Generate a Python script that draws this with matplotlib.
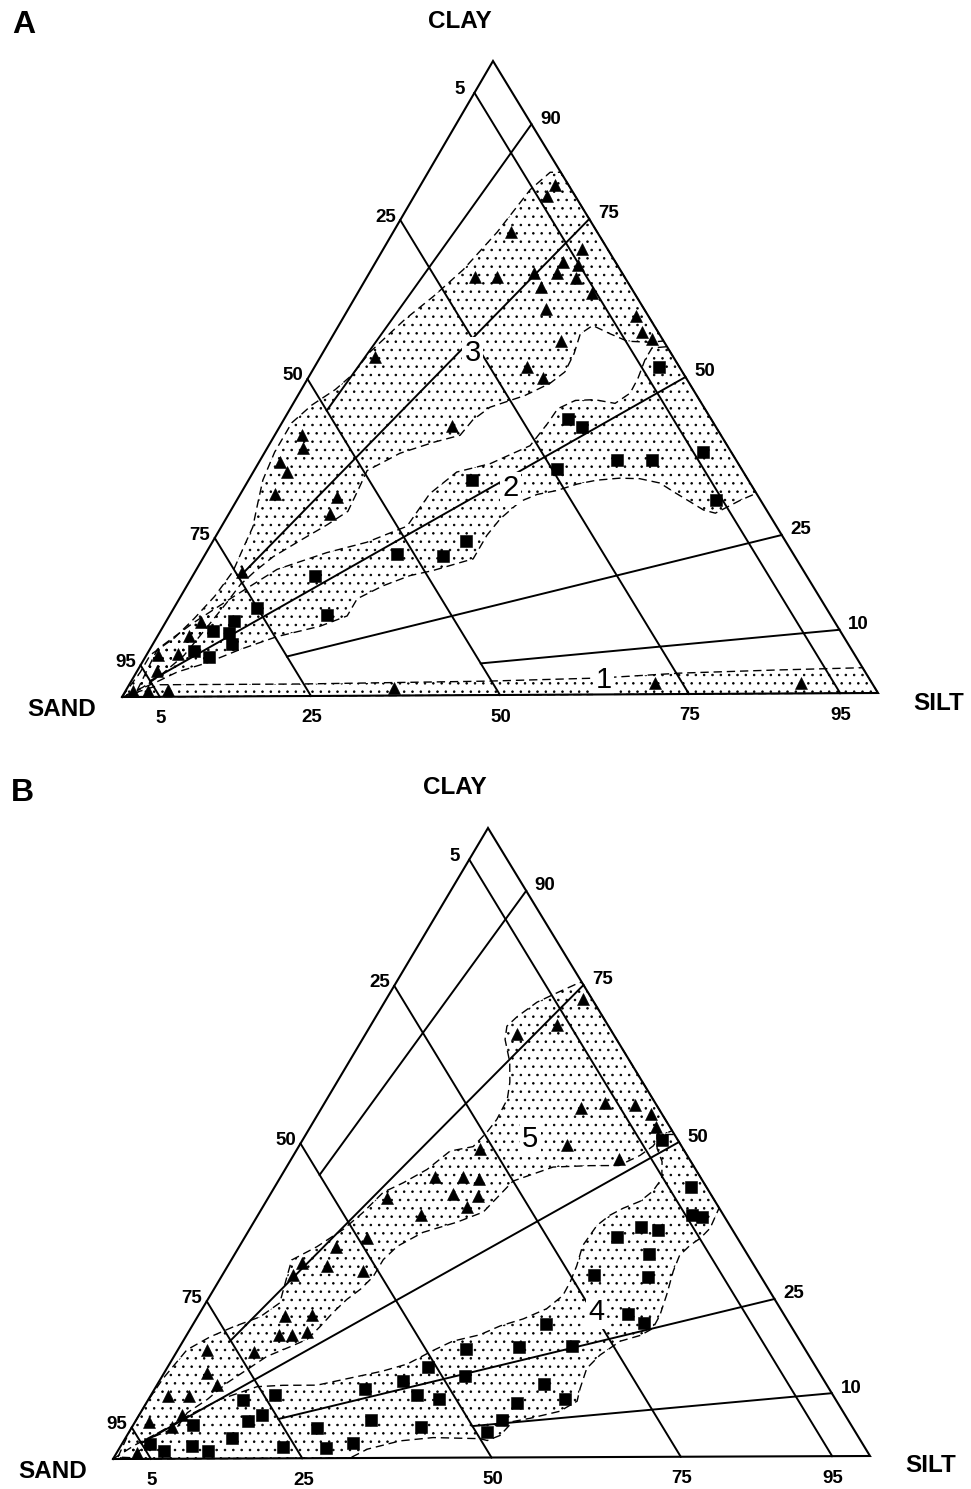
import numpy as np
import matplotlib
matplotlib.use('Agg')
import matplotlib.pyplot as plt
from matplotlib.patches import Polygon

plt.rcParams['font.family'] = ['Liberation Sans', 'DejaVu Sans']
plt.rcParams['hatch.linewidth'] = 0.6

# all compositions are (silt %, clay %), sand = 100 - silt - clay

# ---- panel A ----
a_triangles = [(17.8, 80.4), (17.6, 78.7), (15.6, 73.0), (14.4, 65.9), (17.3, 65.9), (21.8, 66.5),
               (24.8, 68.2), (24.9, 66.5), (26.4, 70.2), (27.1, 67.7), (27.8, 65.7), (23.9, 64.3),
               (31.1, 63.3), (26.3, 60.8), (38.7, 59.7), (40.7, 57.1), (42.6, 56.0), (30.7, 55.8),
               (28.2, 51.7), (31.2, 50.0), (22.9, 42.4), (7.2, 53.4), (3.6, 41.2), (4.7, 39.2),
               (2.8, 36.9), (4.5, 35.4), (4.6, 31.9), (13.1, 31.3), (13.4, 28.7), (6.2, 19.6),
               (4.7, 11.8), (4.2, 9.6), (1.5, 6.6), (4.1, 6.7), (2.6, 4.1), (1.0, 1.0), (3.0, 1.0),
               (5.6, 1.0), (35.4, 1.2), (69.6, 1.8), (89.0, 1.7)]
a_squares = [(29.7, 33.9), (33.6, 24.3), (31.7, 22.0), (25.4, 22.4), (16.2, 18.9), (20.8, 12.8),
             (11.1, 13.9), (9.0, 11.9), (6.9, 10.4), (9.2, 10.0), (10.5, 8.2), (6.0, 7.2), (8.4, 6.2),
             (37.6, 43.5), (40.1, 42.2), (47.3, 37.0), (51.9, 37.0), (40.1, 35.6), (58.2, 38.1),
             (63.6, 30.6), (45.7, 51.6)]
a_zone3 = [(0, 0), (0.5, 3.9), (0.5, 6.6), (2.4, 9.3), (3.5, 12.3), (4.5, 15.8), (5.0, 19.7), (4.5, 23.9),
           (4.2, 26.7), (3.0, 30.5), (1.9, 34.1), (1.3, 38.5), (1.3, 43.1), (2.6, 45.9), (4.5, 48.3),
           (5.6, 50.6), (6.2, 54.2), (8.3, 59.3), (10.3, 62.9), (12.2, 67.1), (13.8, 73.0), (14.9, 79.7),
           (16.2, 82.4), (17.6, 82.4), (44.3, 55.7), (42.6, 55.5), (39.5, 55.7), (36.6, 56.9),
           (33.7, 58.2), (32.7, 56.9), (33.4, 53.8), (33.6, 50.9), (32.5, 49.1), (30.1, 47.2),
           (26.4, 45.4), (25.1, 43.4), (24.6, 41.0), (21.6, 39.9), (18.0, 38.2), (15.0, 35.5),
           (15.3, 32.5), (15.6, 29.1), (13.9, 27.0), (11.5, 24.5), (9.2, 22.0), (7.9, 19.7), (7.0, 17.6),
           (6.6, 14.8), (6.0, 11.6), (5.5, 9.0), (5.0, 6.5), (3.5, 3.5), (2.0, 1.5)]
a_zone2 = [(1.5, 1.0), (1.0, 7.5), (3.7, 11.6), (7.0, 15.7), (10.7, 20.0), (16.0, 22.6), (20.5, 24.2),
           (24.6, 26.7), (25.1, 31.8), (27.0, 35.2), (30.8, 36.5), (34.7, 39.3), (35.3, 42.8),
           (35.5, 45.1), (37.2, 46.4), (39.7, 46.5), (42.7, 45.9), (43.9, 47.5), (43.8, 49.8),
           (43.3, 52.7), (43.3, 54.6), (45.2, 54.8), (68.4, 31.6), (66.8, 30.5), (64.5, 28.5),
           (62.7, 29.0), (60.3, 30.3), (57.5, 31.8), (54.8, 33.3), (51.8, 34.0), (49.1, 34.1),
           (46.2, 33.8), (43.9, 33.2), (41.7, 32.2), (39.4, 31.6), (37.7, 30.5), (36.4, 27.8),
           (35.9, 25.2), (35.9, 21.5), (31.5, 19.7), (28.8, 18.9), (26.0, 17.3), (23.6, 15.3),
           (23.6, 12.6), (20.8, 11.0), (15.9, 9.4), (12.0, 7.4), (8.6, 5.3), (5.4, 3.9), (3.5, 2.4)]
a_zone1 = [(0, 0), (4.1, 1.9), (22.6, 1.9), (47.4, 2.2), (62.0, 2.6), (72.2, 3.3), (84.3, 3.7),
           (96.0, 4.0), (100, 0)]
a_zone_names = ['3', '2', '1']
a_name_pos = [(19.8, 54.2), (35.2, 32.9), (62.4, 2.6)]

# ---- panel B ----
b_triangles = [(26.0, 72.8), (24.6, 68.7), (20.0, 67.3), (34.4, 55.4), (37.1, 56.2), (41.3, 55.9),
               (44.1, 54.5), (45.8, 52.4), (35.4, 49.6), (43.4, 47.3), (24.2, 49.0), (20.4, 44.6),
               (24.1, 44.6), (26.4, 44.3), (24.1, 41.9), (27.6, 41.6), (27.1, 39.8), (21.5, 38.6),
               (15.7, 41.3), (16.2, 34.9), (12.9, 33.5), (9.6, 31.0), (9.3, 29.1), (13.1, 30.6),
               (18.3, 29.7), (11.5, 22.6), (15.0, 22.7), (12.2, 19.6), (14.0, 19.6), (15.7, 20.0),
               (10.3, 16.9), (3.8, 17.3), (5.7, 13.6), (7.9, 11.7), (2.3, 10.0), (5.1, 10.0), (5.6, 7.0),
               (1.8, 5.9), (5.3, 5.1), (2.7, 1.0)]
b_squares = [(47.6, 50.3), (55.1, 42.8), (57.5, 38.4), (58.9, 38.1), (49.3, 35.0), (51.7, 36.5),
             (54.1, 36.0), (54.8, 32.3), (49.2, 28.9), (56.5, 28.5), (56.8, 22.7), (59.6, 21.3),
             (46.7, 21.2), (45.0, 17.5), (51.9, 17.6), (51.1, 11.7), (55.1, 9.2), (49.1, 8.6),
             (48.4, 5.9), (47.4, 4.0), (27.9, 11.0), (32.3, 12.2), (34.5, 14.4), (38.1, 17.2),
             (40.0, 13.0), (35.2, 9.9), (38.5, 9.3), (31.1, 6.0), (24.6, 4.8), (38.3, 4.9), (30.5, 2.4),
             (27.4, 1.6), (12.5, 9.3), (16.5, 10.0), (16.3, 6.9), (14.9, 5.9), (7.9, 5.4), (14.2, 3.2),
             (21.5, 1.8), (9.5, 2.0), (11.9, 1.2), (6.2, 1.2), (3.7, 2.4)]
b_zone5 = [(0.5, 0.3), (0, 4.6), (0, 8.6), (0.3, 12.8), (1.2, 17.3), (3.2, 19.3), (5.5, 20.9), (8.3, 22.5),
           (9.8, 24.7), (8.7, 28.8), (8.0, 31.5), (10.3, 33.6), (12.4, 36.3), (13.7, 39.0), (14.8, 42.2),
           (16.7, 43.7), (18.8, 45.8), (20.4, 48.7), (23.1, 49.4), (23.8, 51.7), (24.1, 53.7),
           (23.9, 56.9), (22.9, 59.6), (21.3, 62.8), (18.9, 66.4), (18.1, 68.5), (18.7, 70.0),
           (20.2, 72.3), (22.4, 74.0), (24.3, 75.4), (24.6, 75.4), (48.2, 51.8), (47.0, 51.0),
           (46.9, 49.4), (45.9, 47.9), (43.9, 46.3), (40.1, 46.3), (35.3, 46.1), (31.1, 43.9),
           (29.6, 39.0), (26.9, 37.4), (23.2, 35.8), (20.9, 33.6), (20.1, 31.5), (20.1, 28.8),
           (19.4, 26.8), (18.4, 25.2), (17.6, 23.1), (17.0, 20.9), (16.3, 18.9), (14.6, 17.7),
           (12.3, 16.2), (10.7, 14.1), (9.1, 12.0), (7.8, 9.4), (6.2, 7.3), (6.0, 5.0), (3.6, 3.5),
           (2.9, 1.4), (2.2, 0.2)]
b_zone4 = [(0, 0), (1.8, 2.2), (4.1, 4.3), (6.7, 7.0), (9.5, 9.4), (13.4, 11.4), (16.7, 11.6), (21.2, 11.6),
           (25.0, 12.7), (28.8, 13.8), (31.5, 14.9), (33.8, 17.0), (35.7, 18.5), (38.8, 19.5),
           (40.8, 20.9), (43.3, 22.0), (45.6, 23.6), (46.7, 25.7), (46.6, 27.9), (46.2, 30.4),
           (45.4, 33.6), (45.7, 36.8), (46.6, 38.4), (47.8, 39.5), (49.5, 40.6), (50.4, 42.2),
           (50.6, 44.2), (49.3, 46.9), (47.6, 49.0), (46.5, 51.2), (48.8, 51.2), (60.5, 39.5),
           (60.9, 36.3), (60.4, 34.7), (59.6, 33.6), (59.0, 32.0), (59.4, 29.5), (60.4, 25.7),
           (61.1, 22.5), (61.2, 20.4), (60.1, 19.3), (57.9, 18.4), (56.3, 16.2), (55.6, 14.1),
           (56.3, 10.9), (56.9, 8.9), (55.4, 7.3), (52.0, 6.2), (50.0, 5.7), (49.4, 3.5), (48.1, 2.7),
           (47.0, 3.0), (40.7, 3.2), (36.6, 2.7), (32.9, 1.4), (31.3, 0)]
b_zone_names = ['5', '4']
b_name_pos = [(29.9, 50.9), (52.3, 23.3)]

# classification frame
sand_lines = [95, 75, 50, 25, 5]
ratio_lines = [90, 75, 50, 25, 10]        # clay share of the fines, %
ratio_stop = [50, 75, 95, 75, 50]         # sand % where the ratio line ends
left_ticks = [5, 25, 50, 75, 95]
right_ticks = [90, 75, 50, 25, 10]
bottom_ticks = [5, 25, 50, 75, 95]

# triangle corners (sand, silt, clay) in figure pixels
corners_a = [(122, 697), (878, 693), (493, 61)]
corners_b = [(113, 1459), (870, 1456), (488, 828)]


def tern(corners, silt, clay):
    S, T, C = (np.array(p, float) for p in corners)
    u = np.atleast_1d(np.asarray(silt, float))[:, None] / 100.0
    v = np.atleast_1d(np.asarray(clay, float))[:, None] / 100.0
    p = S + u * (T - S) + v * (C - S)
    return p[:, 0], p[:, 1]


def frame(ax, corners):
    x, y = tern(corners, [0, 100, 0, 0], [0, 0, 100, 0])
    ax.plot(x, y, color='k', lw=1.5, zorder=7, solid_joinstyle='miter')
    for s in sand_lines:
        x, y = tern(corners, [0, 100 - s], [100 - s, 0])
        ax.plot(x, y, color='k', lw=1.4, zorder=3)
    for r, st in zip(ratio_lines, ratio_stop):
        f = (100 - st) / 100.0
        x, y = tern(corners, [100 - r, (100 - r) * f], [r, r * f])
        ax.plot(x, y, color='k', lw=1.4, zorder=3)
    kw = dict(fontsize=13.5, fontweight='bold', ha='center', va='center', zorder=6)
    for t in left_ticks:
        x, y = tern(corners, 0, 100 - t)
        ax.text(x[0] - 15, y[0] - 3, str(t), **kw)
    for t in right_ticks:
        x, y = tern(corners, 100 - t, t)
        ax.text(x[0] + 19, y[0] - 5, str(t), **kw)
    for t in bottom_ticks:
        x, y = tern(corners, t, 0)
        ax.text(x[0] + 1, y[0] + 22, str(t), **kw)
    S, T, C = corners
    big = dict(fontsize=17.5, fontweight='bold', ha='center', va='center')
    ax.text(S[0] - 60, S[1] + 12, 'SAND', **big)
    ax.text(T[0] + 61, T[1] + 10, 'SILT', **big)
    ax.text(C[0] - 33, C[1] - 40, 'CLAY', **big)


def zone(ax, corners, pts):
    pts = np.array(pts, float)
    x, y = tern(corners, pts[:, 0], pts[:, 1])
    xy = np.column_stack([x, y])
    ax.add_patch(Polygon(xy, closed=True, facecolor='none', edgecolor='k', lw=0, hatch='..', zorder=1))
    ax.add_patch(Polygon(xy, closed=True, fill=False, edgecolor='k', lw=1.0,
                         linestyle=(0, (6, 3.5)), zorder=2))


def points(ax, corners, pts, marker, ms):
    pts = np.array(pts, float)
    x, y = tern(corners, pts[:, 0], pts[:, 1])
    ax.plot(x, y, marker, ms=ms, color='k', mec='k', mew=0.4, ls='none', zorder=4)


def names(ax, corners, labels, pos):
    for lab, (s, c) in zip(labels, pos):
        x, y = tern(corners, s, c)
        ax.text(x[0], y[0] + 2, lab, fontsize=21, ha='center', va='center', zorder=5,
                bbox=dict(boxstyle='square,pad=0.08', fc='white', ec='none'))


fig = plt.figure(figsize=(9.71, 14.89), dpi=100)
ax = fig.add_axes([0, 0, 1, 1])
ax.set_xlim(0, 971)
ax.set_ylim(1489, 0)
ax.axis('off')

for z in (a_zone3, a_zone2, a_zone1):
    zone(ax, corners_a, z)
frame(ax, corners_a)
points(ax, corners_a, a_triangles, '^', 8.5)
points(ax, corners_a, a_squares, 's', 8)
names(ax, corners_a, a_zone_names, a_name_pos)

for z in (b_zone5, b_zone4):
    zone(ax, corners_b, z)
frame(ax, corners_b)
points(ax, corners_b, b_triangles, '^', 8.5)
points(ax, corners_b, b_squares, 's', 8)
names(ax, corners_b, b_zone_names, b_name_pos)

ax.text(23.5, 25, 'A', fontsize=23, fontweight='bold', ha='center', va='center')
ax.text(22, 793, 'B', fontsize=23, fontweight='bold', ha='center', va='center')

fig.savefig('out.png', dpi=100)
